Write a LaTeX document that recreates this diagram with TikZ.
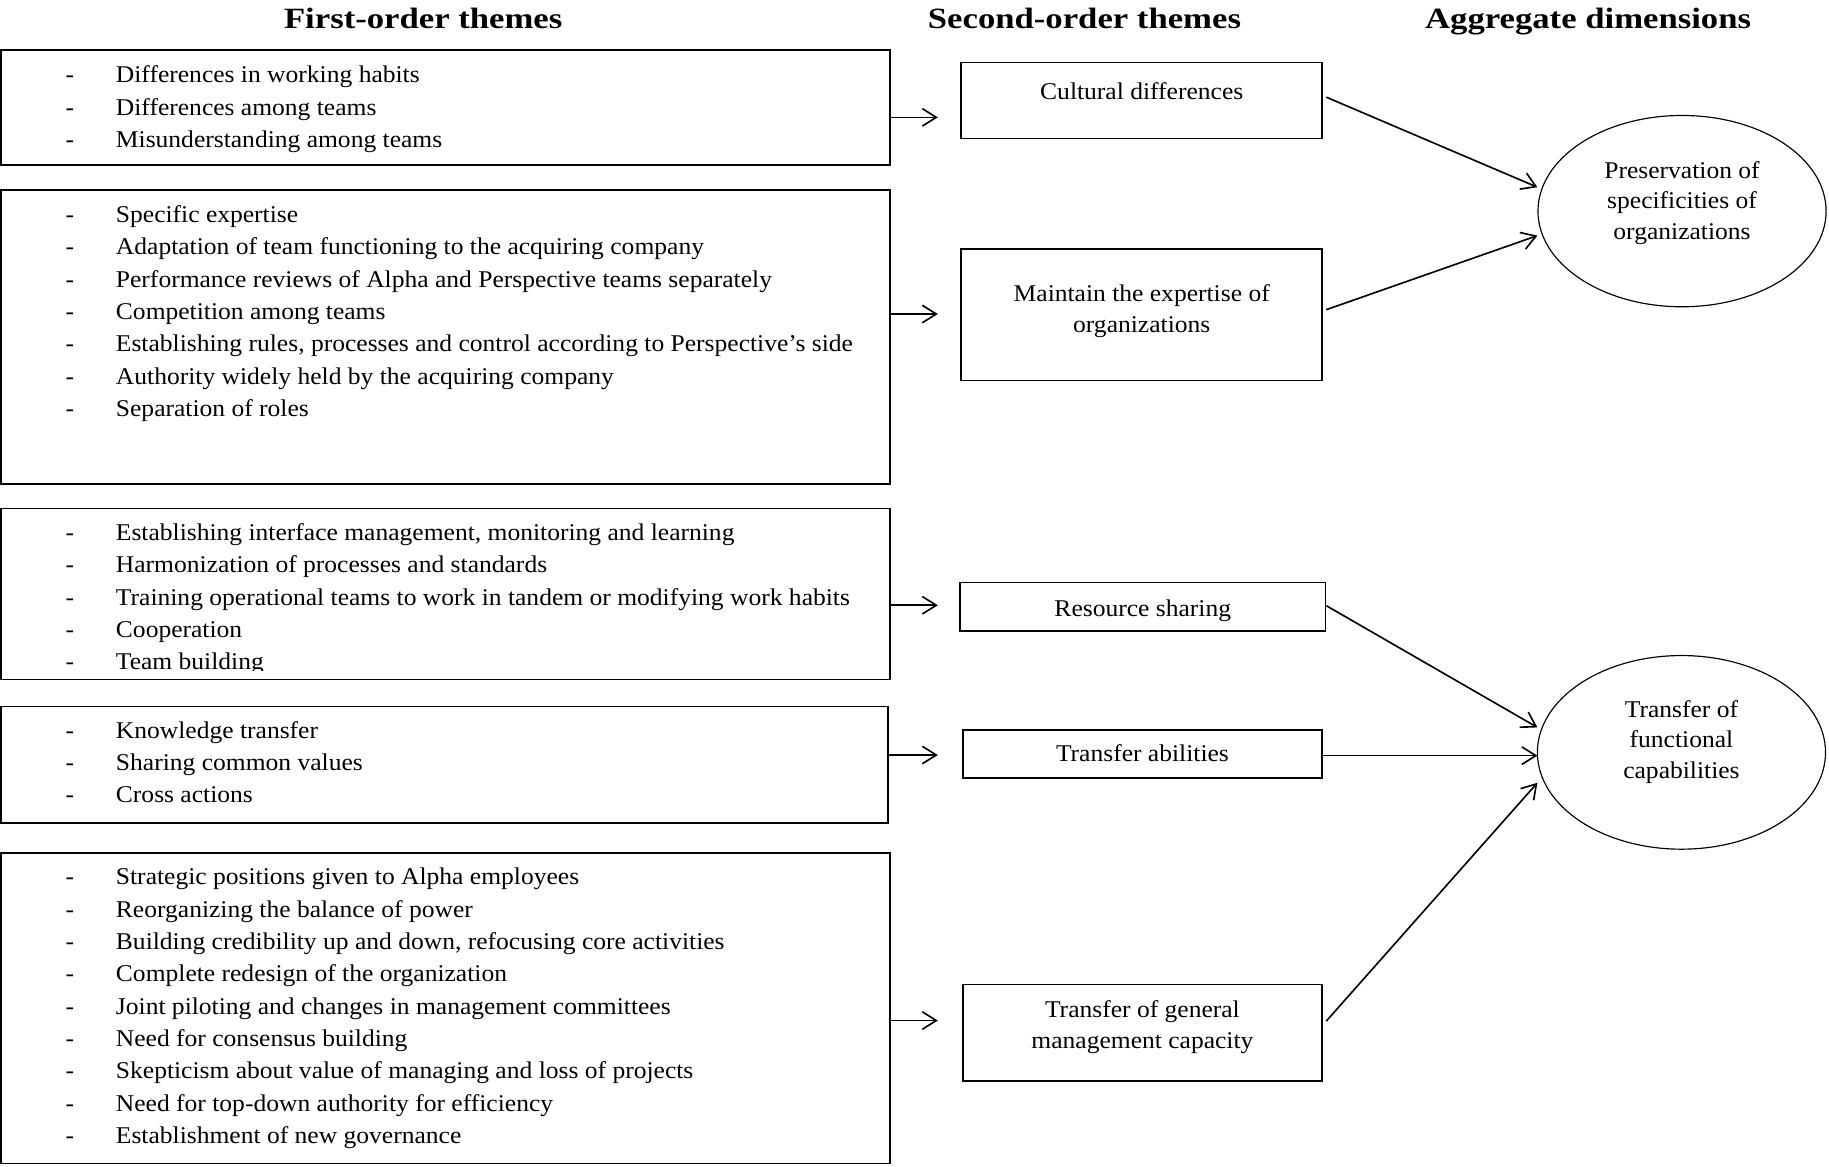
\documentclass[tikz,border=0pt]{standalone}
\usepackage{fontspec}
\setmainfont{Liberation Serif}
\newfontfamily\bodyfont{Liberation Serif}[FakeStretch=1.063]
\newfontfamily\headfont{Liberation Serif}[FakeStretch=1.18]
\usetikzlibrary{arrows.meta,shapes.geometric,fit}
\tikzset{
  boxline/.style={draw, line width=0.7pt, inner sep=0pt},
  itm/.style={anchor=base west, inner sep=0pt, font=\bodyfont\fontsize{10.3pt}{12pt}\selectfont},
  bul/.style={anchor=base, inner sep=0pt, font=\bodyfont\fontsize{10.3pt}{12pt}\selectfont},
  lbl/.style={anchor=base, inner sep=0pt, font=\bodyfont\fontsize{10.3pt}{12pt}\selectfont},
  hdr/.style={anchor=base, inner sep=0pt, font=\headfont\bfseries\fontsize{12.6pt}{14pt}\selectfont},
  arr/.style={-{Straight Barb[length=6pt,width=7.5pt]}, line width=0.7pt},
  ellp/.style={ellipse, draw, line width=0.5pt, inner sep=0pt, minimum width=123.5pt},
}
\begin{document}
\begin{tikzpicture}[x=0.5pt,y=-0.5pt]
\useasboundingbox (0,0) rectangle (1568,1000);

% headers
\node[hdr] (h1) at (362.8,24.3) {First-order themes};
\node[hdr] (h2) at (929.7,24.3) {Second-order themes};
\node[hdr] (h3) at (1361.5,24.3) {Aggregate dimensions};

% first-order boxes
\node[boxline, fit={(0.7,42.9) (762.8,141.4)}] (f1) {};
\node[boxline, fit={(0.7,162.9) (762.8,415)}] (f2) {};
\node[boxline, fit={(0.7,435.8) (762.8,582.4)}] (f3) {};
\node[boxline, fit={(0.7,605.8) (761,705.8)}] (f4) {};
\node[boxline, fit={(0.7,731) (762.8,997.5)}] (f5) {};

\foreach \t [count=\i] in {Differences in working habits, Differences among teams, Misunderstanding among teams} {
  \node[bul] (f1d\i) at (59.8,{70.9+(\i-1)*27.7}) {-};
  \node[itm] (f1t\i) at (99,{70.9+(\i-1)*27.7}) {\t};
}
\foreach \t [count=\i] in {Specific expertise, Adaptation of team functioning to the acquiring company, Performance reviews of Alpha and Perspective teams separately, Competition among teams, {Establishing rules, processes and control according to Perspective’s side}, Authority widely held by the acquiring company, Separation of roles} {
  \node[bul] (f2d\i) at (59.8,{190.9+(\i-1)*27.7}) {-};
  \node[itm] (f2t\i) at (99,{190.9+(\i-1)*27.7}) {\t};
}
\begin{scope}
\clip (0,436) rectangle (763,575);
\foreach \t [count=\i] in {{Establishing interface management, monitoring and learning}, Harmonization of processes and standards, Training operational teams to work in tandem or modifying work habits, Cooperation, Team building} {
  \node[bul] (f3d\i) at (59.8,{463.5+(\i-1)*27.7}) {-};
  \node[itm] (f3t\i) at (99,{463.5+(\i-1)*27.7}) {\t};
}
\end{scope}
\foreach \t [count=\i] in {Knowledge transfer, Sharing common values, Cross actions} {
  \node[bul] (f4d\i) at (59.8,{633+(\i-1)*27.7}) {-};
  \node[itm] (f4t\i) at (99,{633+(\i-1)*27.7}) {\t};
}
\foreach \t [count=\i] in {Strategic positions given to Alpha employees, Reorganizing the balance of power, {Building credibility up and down, refocusing core activities}, Complete redesign of the organization, Joint piloting and changes in management committees, Need for consensus building, Skepticism about value of managing and loss of projects, Need for top-down authority for efficiency, Establishment of new governance} {
  \node[bul] (f5d\i) at (59.8,{758.7+(\i-1)*27.7}) {-};
  \node[itm] (f5t\i) at (99,{758.7+(\i-1)*27.7}) {\t};
}

% second-order boxes
\node[boxline, fit={(824,53.7) (1133.3,118.6)}] (s1) {};
\node[boxline, fit={(824,213.3) (1133.3,326.3)}] (s2) {};
\node[boxline, fit={(823,499.4) (1136.4,540.9)}] (s3) {};
\node[boxline, fit={(825.5,625.6) (1133.3,667.1)}] (s4) {};
\node[boxline, fit={(825.5,843.9) (1133.3,927)}] (s5) {};

\node[lbl] (s1t) at (978.8,85.7) {Cultural differences};
\node[lbl] (s2t1) at (978.8,258.6) {Maintain the expertise of};
\node[lbl] (s2t2) at (978.8,285) {organizations};
\node[lbl] (s3t) at (979.7,528.3) {Resource sharing};
\node[lbl] (s4t) at (979.4,652.9) {Transfer abilities};
\node[lbl] (s5t1) at (979.4,872.2) {Transfer of general};
\node[lbl] (s5t2) at (979.4,898.8) {management capacity};

% aggregate dimensions
\node[ellp, minimum height=82pt] (e1) at (1442,181) {};
\node[ellp, minimum height=83pt] (e2) at (1441.5,645) {};
\node[lbl] (e1t1) at (1442,152.9) {Preservation of};
\node[lbl] (e1t2) at (1442,178.6) {specificities of};
\node[lbl] (e1t3) at (1442,205.2) {organizations};
\node[lbl] (e2t1) at (1441.5,614.7) {Transfer of};
\node[lbl] (e2t2) at (1441.5,641.2) {functional};
\node[lbl] (e2t3) at (1441.5,667.8) {capabilities};

% arrows first -> second order
\coordinate (a1) at (804,100.6);
\coordinate (a2) at (804,269.2);
\coordinate (a3) at (804,518.9);
\coordinate (a4) at (804,647.3);
\coordinate (a5) at (804,874.9);
\draw[arr] (f1.east |- a1) -- (a1);
\draw[arr] (f2.east |- a2) -- (a2);
\draw[arr] (f3.east |- a3) -- (a3);
\draw[arr] (f4.east |- a4) -- (a4);
\draw[arr] (f5.east |- a5) -- (a5);

% arrows second order -> aggregate
\coordinate (k1) at (0,83.3);
\coordinate (k2) at (0,265.5);
\coordinate (k3) at (0,519.3);
\coordinate (k5) at (0,875.4);
\coordinate (t1) at (1318,160.5);
\coordinate (t2) at (1318,202);
\coordinate (t3) at (1318,623.6);
\coordinate (t4) at (1318,647.8);
\coordinate (t5) at (1318,671.1);
\draw[arr] ([xshift=1.5pt]s1.east |- k1) -- (t1);
\draw[arr] ([xshift=1.5pt]s2.east |- k2) -- (t2);
\draw[arr] (s3.east |- k3) -- (t3);
\draw[arr] (s4.east |- t4) -- (t4);
\draw[arr] ([xshift=1.5pt]s5.east |- k5) -- (t5);
\end{tikzpicture}
\end{document}
